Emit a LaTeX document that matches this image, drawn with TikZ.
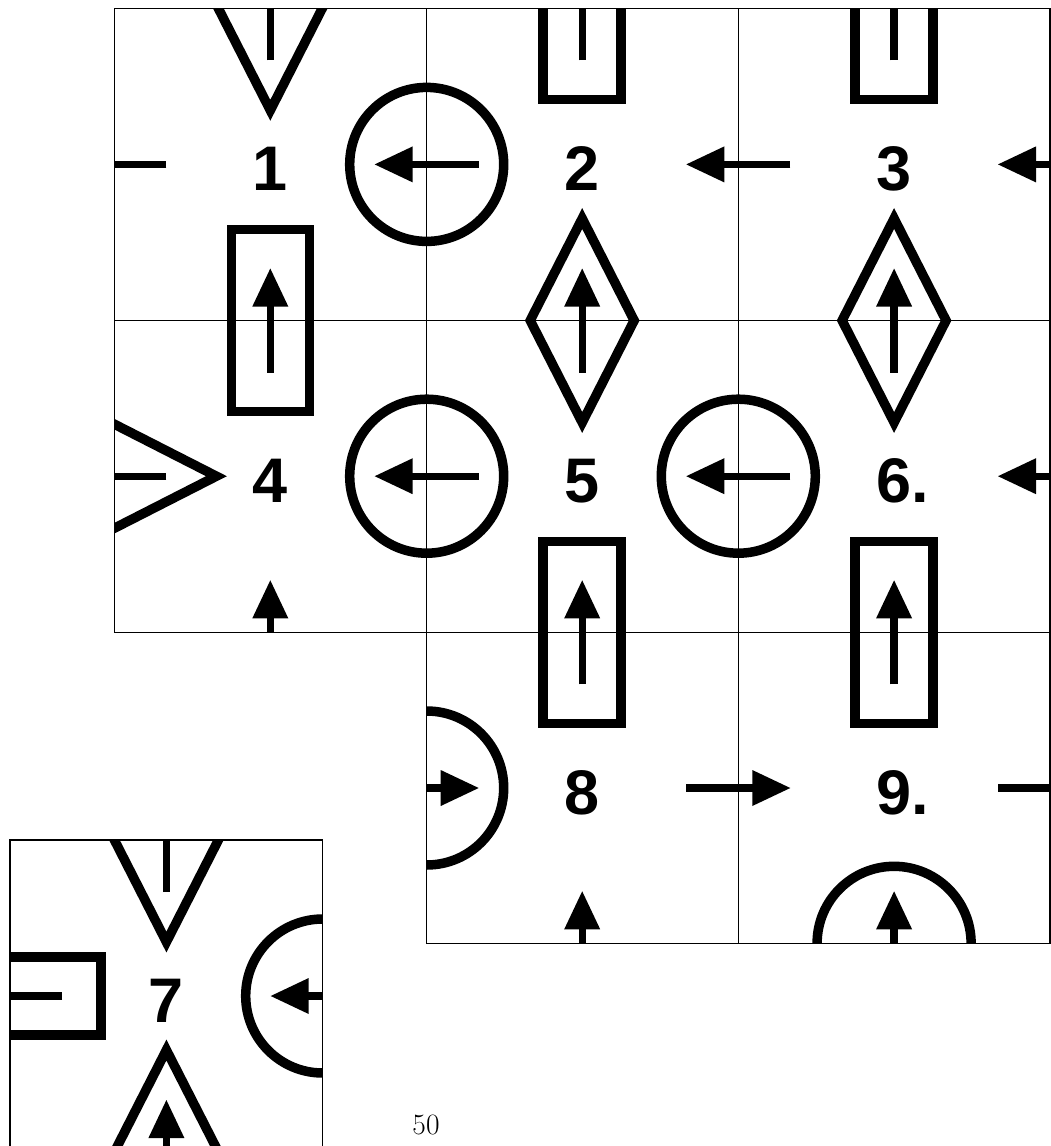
\documentclass[tikz,border=0pt]{standalone}
\usepackage{fontspec}
\newfontfamily\labfont{Liberation Sans}
\tikzset{
  gridline/.style={line width=1.2pt},
  tshape/.style={line width=9.5pt},
  lab/.style={anchor=base, inner sep=0pt, font=\labfont\bfseries\fontsize{63}{70}\selectfont},
  pics/arr/.style={code={
    \fill (0,-52) -- (18,-14) -- (-18,-14) -- cycle;
    \draw[line width=7.3pt] (0,52) -- (0,-16);}},
  pics/dia/.style={code={\draw[tshape] (0,-102) -- (52,0) -- (0,102) -- (-52,0) -- cycle;}},
  pics/box/.style={code={\draw[tshape] (-39,-91) rectangle (39,91);}},
  pics/ring/.style={code={\draw[tshape] (0,0) circle[radius=77];}},
}
\begin{document}
\begin{tikzpicture}[x=1pt,y=-1pt]
\useasboundingbox (0,0) rectangle (1051,1146);
% columns / rows
\def\xa{114.4}\def\xb{426.7}\def\xc{738.3}\def\xd{1050}
\def\ya{8.3}\def\yb{320.5}\def\yc{632.3}\def\yd{943.3}
\def\ca{270.3}\def\cb{582.2}\def\cc{894.1}
\def\ra{164.4}\def\rb{476.2}\def\rc{788}
\begin{scope}
  \clip (\xa,\ya) -- (\xd,\ya) -- (\xd,\yd) -- (\xb,\yd) -- (\xb,\yc) -- (\xa,\yc) -- cycle
        (10,840) rectangle (322.7,1152);
  % horizontal borders (features on vertical axis)
  \pic at (\ca,\ya) {dia};  \pic at (\ca,\ya) {arr};
  \pic at (\cb,\ya) {box};  \pic at (\cb,\ya) {arr};
  \pic at (\cc,\ya) {box};  \pic at (\cc,\ya) {arr};
  \pic at (\ca,\yb) {box};  \pic at (\ca,\yb) {arr};
  \pic at (\cb,\yb) {dia};  \pic at (\cb,\yb) {arr};
  \pic at (\cc,\yb) {dia};  \pic at (\cc,\yb) {arr};
  \pic at (\ca,\yc) {arr};
  \pic at (\cb,\yc) {box};  \pic at (\cb,\yc) {arr};
  \pic at (\cc,\yc) {box};  \pic at (\cc,\yc) {arr};
  \pic at (\cb,\yd) {arr};
  \pic at (\cc,\yd) {ring}; \pic at (\cc,\yd) {arr};
  % vertical borders
  \pic[rotate=90] at (\xa,\ra) {arr};
  \pic at (\xb,\ra) {ring}; \pic[rotate=90] at (\xb,\ra) {arr};
  \pic[rotate=90] at (\xc,\ra) {arr};
  \pic[rotate=90] at (\xd,\ra) {arr};
  \pic[rotate=90] at (\xa,\rb) {dia}; \pic[rotate=90] at (\xa,\rb) {arr};
  \pic at (\xb,\rb) {ring}; \pic[rotate=90] at (\xb,\rb) {arr};
  \pic at (\xc,\rb) {ring}; \pic[rotate=90] at (\xc,\rb) {arr};
  \pic[rotate=90] at (\xd,\rb) {arr};
  \pic at (\xb,\rc) {ring}; \pic[rotate=-90] at (\xb,\rc) {arr};
  \pic[rotate=-90] at (\xc,\rc) {arr};
  \pic[rotate=-90] at (\xd,\rc) {arr};
  % tile 7
  \pic at (166.4,840) {dia}; \pic at (166.4,840) {arr};
  \pic[rotate=90] at (10,996) {box}; \pic[rotate=90] at (10,996) {arr};
  \pic at (322.7,996) {ring}; \pic[rotate=90] at (322.7,996) {arr};
  \pic at (166.4,1152) {dia}; \pic at (166.4,1152) {arr};
\end{scope}
% grid
\draw[gridline] (\xa,\ya) rectangle (\xd,\yc);
\draw[gridline] (\xb,\ya) -- (\xb,\yd) -- (\xd,\yd) -- (\xd,\yc);
\draw[gridline] (\xc,\ya) -- (\xc,\yd);
\draw[gridline] (\xa,\yb) -- (\xd,\yb);
\draw[gridline] (\xb,\yc) -- (\xd,\yc);
\draw[gridline] (10,1152) -- (10,840) -- (322.7,840) -- (322.7,1152);
% labels
\node[lab] (n1) at (\ca,\ra+26.5) {1};
\node[lab] (n2) at (\cb,\ra+26.5) {2};
\node[lab] (n3) at (\cc,\ra+26.5) {3};
\node[lab] (n4) at (\ca,\rb+26.5) {4};
\node[lab] (n5) at (\cb,\rb+26.5) {5};
\node[lab] (n6) at (\cc,\rb+26.5) {6\rlap{.}};
\node[lab] (n8) at (\cb,\rc+26.5) {8};
\node[lab] (n9) at (\cc,\rc+26.5) {9\rlap{.}};
\node[lab] (n7) at (166.4,996+26.5) {7};
\node[anchor=base, inner sep=0pt, font=\fontsize{29.5}{32}\selectfont] (pg) at (426,1134) {50};
\end{tikzpicture}
\end{document}
